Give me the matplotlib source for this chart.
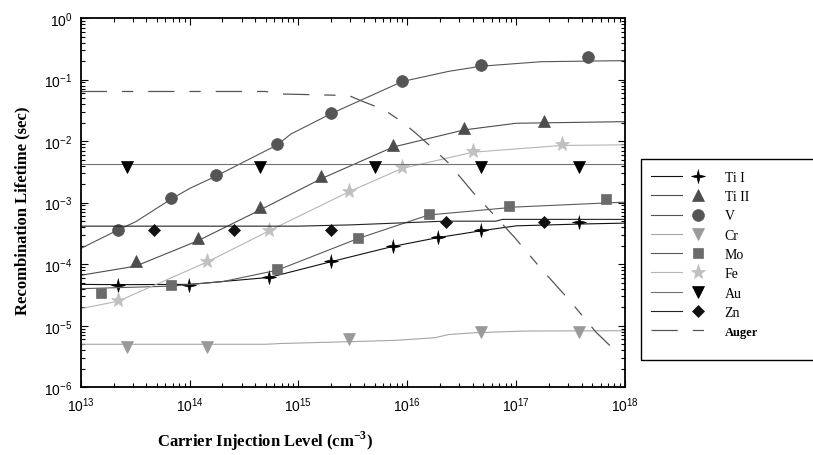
import numpy as np
import matplotlib
matplotlib.use("Agg")
import matplotlib.pyplot as plt
from matplotlib.path import Path
from matplotlib.patches import Rectangle
from matplotlib.legend_handler import HandlerTuple
from matplotlib.ticker import LogLocator, NullFormatter

plt.rcParams['font.family'] = ['Liberation Sans', 'DejaVu Sans']
plt.rcParams['mathtext.fontset'] = 'custom'
plt.rcParams['mathtext.rm'] = 'Liberation Serif'
plt.rcParams['mathtext.bf'] = 'Liberation Serif:bold'

# ---- data ----
v_line_x = [1e13, 2.2e13, 3.2e13, 6.8e13, 1e14, 1.75e14, 6.4e14, 8.5e14, 2e15, 9e15, 2.4e16, 4.8e16, 1.7e17, 1e18]
v_line_y = [1.8e-4, 3.6e-4, 4.9e-4, 1.15e-3, 1.7e-3, 2.7e-3, 8.7e-3, 1.3e-2, 2.8e-2, 9.3e-2, 0.136, 0.165, 0.195, 0.203]
v_mk_x = [2.2e13, 6.8e13, 1.75e14, 6.4e14, 2.0e15, 9.0e15, 4.8e16, 4.6e17]
v_mk_y = [3.6e-4, 1.18e-3, 2.8e-3, 9.0e-3, 2.9e-2, 9.6e-2, 0.172, 0.235]

ti2_line_x = [1e13, 3.2e13, 1.19e14, 4.44e14, 1.62e15, 7.4e15, 3.33e16, 1e17, 1e18]
ti2_line_y = [6.6e-5, 9.3e-5, 2.4e-4, 7.6e-4, 2.45e-3, 8.0e-3, 1.52e-2, 1.95e-2, 2.07e-2]
ti2_mk_x = [3.2e13, 1.19e14, 4.44e14, 1.62e15, 7.4e15, 3.33e16, 1.8e17]
ti2_mk_y = [1.12e-4, 2.65e-4, 8.45e-4, 2.69e-3, 8.8e-3, 1.64e-2, 2.15e-2]

fe_line_x = [1e13, 2.2e13, 1.44e14, 5.4e14, 2.9e15, 8.95e15, 4.0e16, 2.63e17, 1e18]
fe_line_y = [1.9e-5, 2.5e-5, 1.08e-4, 3.5e-4, 1.5e-3, 3.6e-3, 6.6e-3, 8.5e-3, 8.7e-3]
fe_mk_x = [2.2e13, 1.44e14, 5.4e14, 2.9e15, 8.95e15, 4.0e16, 2.63e17]
fe_mk_y = [2.58e-5, 1.11e-4, 3.6e-4, 1.57e-3, 3.77e-3, 6.85e-3, 9.0e-3]

mo_line_x = [1e13, 6.8e13, 2e14, 6.4e14, 3.5e15, 1.57e16, 1e17, 1e18]
mo_line_y = [4.0e-5, 4.4e-5, 5.2e-5, 8.0e-5, 2.6e-4, 6.3e-4, 8.5e-4, 1.02e-3]
mo_mk_x = [1.52e13, 6.8e13, 6.4e14, 3.5e15, 1.57e16, 8.6e16, 6.7e17]
mo_mk_y = [3.44e-5, 4.63e-5, 8.4e-5, 2.7e-4, 6.6e-4, 8.8e-4, 1.15e-3]

ti1_line_x = [1e13, 2.2e13, 1e14, 5.4e14, 2e15, 7.4e15, 1.9e16, 4.8e16, 1e17, 4e17, 1e18]
ti1_line_y = [4.7e-5, 4.65e-5, 4.7e-5, 6.1e-5, 1.1e-4, 1.95e-4, 2.7e-4, 3.5e-4, 4.2e-4, 4.5e-4, 4.65e-4]
ti1_mk_x = [2.2e13, 9.9e13, 5.4e14, 1.98e15, 7.4e15, 1.9e16, 4.8e16, 3.78e17]
ti1_mk_y = [4.63e-5, 4.63e-5, 6.3e-5, 1.12e-4, 2.01e-4, 2.75e-4, 3.63e-4, 4.82e-4]

zn_line_x = [1e13, 1e15, 3e15, 2.2e16, 6.5e16, 7.5e16, 1e18]
zn_line_y = [4.15e-4, 4.15e-4, 4.35e-4, 5.0e-4, 5.0e-4, 5.35e-4, 5.35e-4]
zn_mk_x = [4.7e13, 2.57e14, 1.98e15, 2.28e16, 1.81e17]
zn_mk_y = [3.63e-4, 3.63e-4, 3.63e-4, 4.82e-4, 4.82e-4]

au_line_x = [1e13, 1e18]
au_line_y = [4.3e-3, 4.3e-3]
au_mk_x = [2.67e13, 4.47e14, 5.1e15, 4.8e16, 3.78e17]
au_mk_y = [3.86e-3, 3.86e-3, 3.86e-3, 3.86e-3, 3.86e-3]

cr_line_x = [1e13, 5e14, 7e14, 2.9e15, 8e15, 1.8e16, 2.4e16, 4.2e16, 1.2e17, 1e18]
cr_line_y = [5.0e-6, 5.0e-6, 5.15e-6, 5.5e-6, 5.8e-6, 6.4e-6, 7.2e-6, 7.7e-6, 8.2e-6, 8.3e-6]
cr_mk_x = [2.67e13, 1.44e14, 2.9e15, 4.8e16, 3.78e17]
cr_mk_y = [4.45e-6, 4.45e-6, 6.2e-6, 7.9e-6, 7.9e-6]

auger_x = [1e13, 5e14, 6.9e14, 2.9e15, 3.85e15, 6.1e15, 8.9e15, 1.17e16, 1.68e16, 2.4e16,
           4.0e16, 5.56e16, 9.8e16, 1.65e17, 3.1e17, 5.4e17, 7.5e17]
auger_y = [6.4e-2, 6.4e-2, 5.83e-2, 5.5e-2, 4.45e-2, 3.24e-2, 2.07e-2, 1.39e-2, 7.9e-3, 4.37e-3,
           1.48e-3, 7.9e-4, 2.65e-4, 8.9e-5, 2.57e-5, 7.9e-6, 4.5e-6]

labels = ['Ti I', 'Ti II', 'V', 'Cr', 'Mo', 'Fe', 'Au', 'Zn', 'Auger']

# 4-point star marker for Ti I
ang = np.arange(8) * np.pi / 4 + np.pi / 2
rad = np.where(np.arange(8) % 2 == 0, 1.0, 0.28)
star4 = Path(np.column_stack([rad * np.cos(ang), rad * np.sin(ang)]))

fig = plt.figure(figsize=(8.13, 4.56), dpi=100)
ax = fig.add_axes([0.0993, 0.1485, 0.6695, 0.8098])

lw = 0.8
series = [
    (ti1_line_x, ti1_line_y, ti1_mk_x, ti1_mk_y, '#111111', '#000000', star4, 10),
    (ti2_line_x, ti2_line_y, ti2_mk_x, ti2_mk_y, '#4d4d4d', '#4d4d4d', '^', 9),
    (v_line_x, v_line_y, v_mk_x, v_mk_y, '#555555', '#555555', 'o', 8.5),
    (cr_line_x, cr_line_y, cr_mk_x, cr_mk_y, '#a5a5a5', '#9a9a9a', 'v', 8.5),
    (mo_line_x, mo_line_y, mo_mk_x, mo_mk_y, '#5a5a5a', '#6b6b6b', 's', 7.8),
    (fe_line_x, fe_line_y, fe_mk_x, fe_mk_y, '#b5b5b5', '#c0c0c0', '*', 11),
    (au_line_x, au_line_y, au_mk_x, au_mk_y, '#707070', '#000000', 'v', 8.5),
    (zn_line_x, zn_line_y, zn_mk_x, zn_mk_y, '#222222', '#111111', 'D', 6.5),
]
handles = []
for lx, ly, mx, my, lc, mc, mk, ms in series:
    ln, = ax.plot(lx, ly, color=lc, lw=lw)
    pt, = ax.plot(mx, my, ls='none', marker=mk, ms=ms, color=mc, mec=mc, mew=0.5)
    handles.append((ln, pt))

aug, = ax.plot(auger_x, auger_y, color='#555555', lw=0.9, ls=(0, (21, 12, 9, 12)))
handles.append(aug)

ax.set_xscale('log')
ax.set_yscale('log')
ax.set_xlim(1e13, 1e18)
ax.set_ylim(1e-6, 1)

ax.tick_params(which='both', direction='in', top=True, right=True, width=0.8,
               labelsize=10, colors='black')
ax.tick_params(which='major', length=5, pad=6)
ax.tick_params(which='minor', length=3)
ax.xaxis.set_minor_locator(LogLocator(base=10, subs=np.arange(2, 10)))
ax.yaxis.set_minor_locator(LogLocator(base=10, subs=np.arange(2, 10)))
ax.xaxis.set_minor_formatter(NullFormatter())
ax.yaxis.set_minor_formatter(NullFormatter())
ax.xaxis.get_offset_text().set_visible(False)
ax.yaxis.get_offset_text().set_visible(False)
for sp in ax.spines.values():
    sp.set_linewidth(1.3)

ax.set_xlabel(r'Carrier Injection Level (cm$^{\mathbf{-3}}$)', family='Liberation Serif',
              fontweight='bold', fontsize=12)
ax.xaxis.set_label_coords(0.339, -0.112)
ax.set_ylabel('Recombination Lifetime (sec)', family='Liberation Serif',
              fontweight='bold', fontsize=12)
ax.yaxis.set_label_coords(-0.093, 0.48)

# legend box (runs off the right edge of the figure)
fig.patches.append(Rectangle((641 / 813, 1 - 361 / 456), 0.3, 201 / 456,
                             transform=fig.transFigure, fill=False, ec='black', lw=1.0))
leg = fig.legend(handles, labels, loc='upper left', bbox_to_anchor=(651 / 813, 1 - 172 / 456),
                 frameon=False, prop={'family': 'Liberation Serif', 'size': 10},
                 handlelength=4.5, handletextpad=0.8, labelspacing=0.45, borderaxespad=0,
                 borderpad=0, handler_map={tuple: HandlerTuple(ndivide=None)})
leg.get_texts()[-1].set_fontweight('bold')
leg.get_texts()[-1].set_fontsize(9)

fig.savefig('out.png', dpi=100)
